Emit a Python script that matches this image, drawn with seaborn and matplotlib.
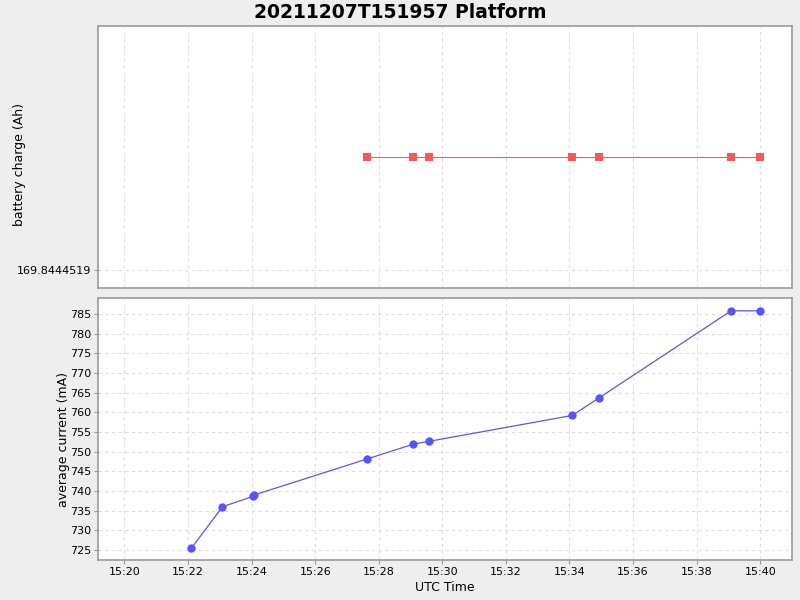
import pandas as pd
import numpy as np
import matplotlib.pyplot as plt
import matplotlib.dates as mdates
import seaborn as sns

# data
current_times = ['15:22:06', '15:23:05', '15:24:02', '15:24:05', '15:27:37', '15:29:05',
                 '15:29:34', '15:34:05', '15:34:55', '15:39:05', '15:40:00']
current_ma = [725.4, 736.0, 738.6, 739.0, 748.1, 751.9, 752.6, 759.2, 763.6, 785.8, 785.8]

charge_times = ['15:27:37', '15:29:05', '15:29:34', '15:34:05', '15:34:55', '15:39:05', '15:40:00']
charge_ah = [169.8444520] * 7
charge_tick = 169.8444519

day = '2021-12-07 '
cur = pd.DataFrame({'time': pd.to_datetime([day + t for t in current_times]), 'current': current_ma})
chg = pd.DataFrame({'time': pd.to_datetime([day + t for t in charge_times]), 'charge': charge_ah})

sns.set_style('white')
plt.rcParams['font.family'] = ['DejaVu Sans']
plt.rcParams['text.color'] = 'black'
plt.rcParams['axes.labelcolor'] = 'black'
plt.rcParams['xtick.color'] = 'black'
plt.rcParams['ytick.color'] = 'black'

fig = plt.figure(figsize=(8, 6), dpi=100, facecolor='#eeeeee')
ax1 = fig.add_axes([0.1225, 0.52, 0.8675, 0.4367])
ax2 = fig.add_axes([0.1225, 0.0667, 0.8675, 0.4367], sharex=ax1)

sns.lineplot(data=chg, x='time', y='charge', ax=ax1, color='#ff5555', marker='s',
             markersize=6, markeredgewidth=0, linewidth=0.8, estimator=None)
sns.lineplot(data=cur, x='time', y='current', ax=ax2, color='#5555ff', marker='o',
             markersize=6, markeredgewidth=0, linewidth=0.9, estimator=None)

x0 = pd.Timestamp(day + '15:19:10')
x1 = pd.Timestamp(day + '15:41:00')
ax2.set_xlim(x0, x1)
ax2.xaxis.set_major_locator(mdates.MinuteLocator(byminute=range(0, 60, 2)))
ax2.xaxis.set_major_formatter(mdates.DateFormatter('%H:%M'))

d = (charge_ah[0] - charge_tick) / 0.863
ax1.set_ylim(charge_ah[0] - d, charge_ah[0] + d)
ax1.set_yticks([charge_tick])
ax1.set_yticklabels(['169.8444519'])
ax2.set_ylim(722.46, 789.07)
ax2.set_yticks(np.arange(725, 790, 5))

for ax in (ax1, ax2):
    ax.set_facecolor('white')
    ax.grid(True, color='#dddddd', linestyle=(0, (3, 3)), linewidth=0.8)
    for s in ax.spines.values():
        s.set_color('#999999')
        s.set_linewidth(1.2)
    ax.tick_params(axis='both', labelsize=8, length=3, color='#999999', labelcolor='black',
                   direction='out', pad=2, left=True, bottom=True)

ax1.tick_params(axis='x', labelbottom=False, bottom=False)
ax1.set_xlabel('')
ax1.set_ylabel('battery charge (Ah)', fontsize=9)
ax1.yaxis.set_label_coords(-0.104, 0.47)
ax2.set_ylabel('average current (mA)', fontsize=9)
ax2.yaxis.set_label_coords(-0.04, 0.46)
ax2.set_xlabel('UTC Time', fontsize=9, labelpad=3)

fig.suptitle('20211207T151957 Platform', fontsize=13.5, fontweight='bold', y=0.995)

plt.savefig('out.png', dpi=100, facecolor=fig.get_facecolor())
